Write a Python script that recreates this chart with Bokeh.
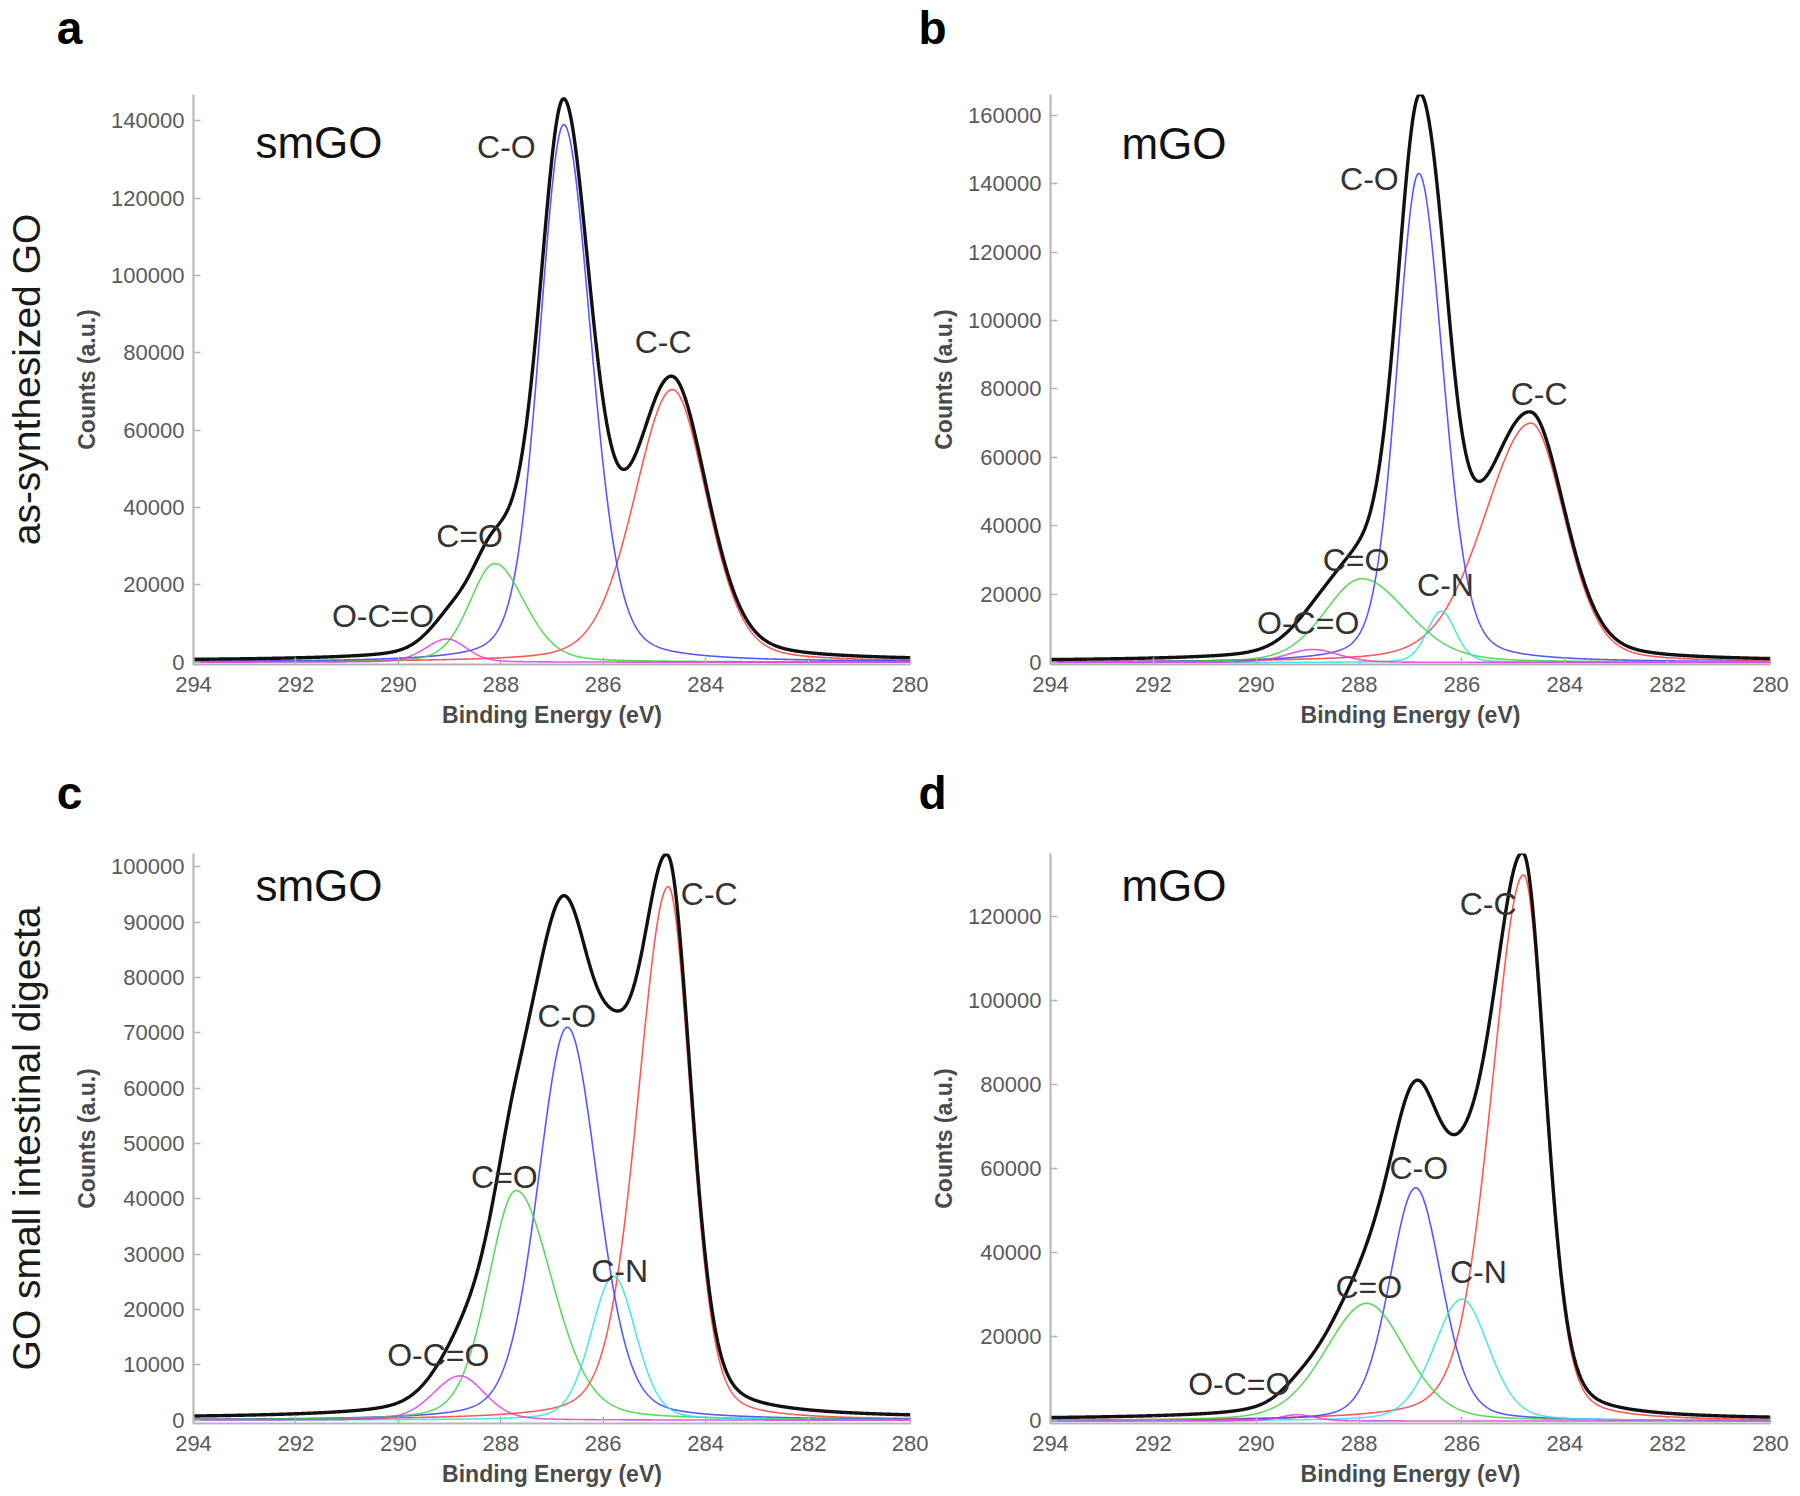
import numpy as np
from bokeh.plotting import figure
from bokeh.models import Range1d, FixedTicker, Label, PrintfTickFormatter, LinearAxis
from bokeh.layouts import column, row
from bokeh.embed import file_html
from bokeh.resources import INLINE

# ---------------- data ----------------
x_ticks = [294, 292, 290, 288, 286, 284, 282, 280]

# fitted C1s components: centre (eV), height (counts), half-widths toward high / low BE (eV)
a_species = ["C-C", "C-O", "C=O", "O-C=O"]
a_center = [284.65, 286.77, 288.12, 289.05]
a_height = [70500, 139000, 25500, 6000]
a_hw_high = [0.88, 0.56, 0.58, 0.50]
a_hw_low = [0.80, 0.63, 0.70, 0.45]
a_background = 300
a_yticks = [0, 20000, 40000, 60000, 80000, 100000, 120000, 140000]

b_species = ["C-C", "C-O", "C=O", "C-N", "O-C=O"]
b_center = [284.66, 286.84, 287.95, 286.40, 288.90]
b_height = [70000, 143000, 24500, 15000, 3800]
b_hw_high = [1.08, 0.50, 0.85, 0.33, 0.60]
b_hw_low = [0.78, 0.56, 1.05, 0.33, 0.60]
b_background = 300
b_yticks = [0, 20000, 40000, 60000, 80000, 100000, 120000, 140000, 160000]

c_species = ["C-C", "C-O", "C=O", "C-N", "O-C=O"]
c_center = [284.73, 286.70, 287.70, 285.80, 288.80]
c_height = [96400, 71000, 41500, 26000, 8000]
c_hw_high = [0.70, 0.68, 0.65, 0.52, 0.62]
c_hw_low = [0.52, 0.70, 0.84, 0.52, 0.58]
c_background = 300
c_yticks = [0, 10000, 20000, 30000, 40000, 50000, 60000, 70000, 80000, 90000, 100000]

d_species = ["C-C", "C-O", "C=O", "C-N", "O-C=O"]
d_center = [284.80, 286.90, 287.85, 286.00, 289.20]
d_height = [130000, 55500, 28000, 29000, 1500]
d_hw_high = [0.74, 0.60, 0.95, 0.65, 0.40]
d_hw_low = [0.50, 0.60, 0.90, 0.62, 0.40]
d_background = 300
d_yticks = [0, 20000, 40000, 60000, 80000, 100000, 120000]

# peak labels (text, x in eV, y in counts)
a_labels = [("C-O", 287.89, 133200), ("C-C", 284.83, 82800), ("C=O", 288.61, 32700), ("O-C=O", 290.30, 12000)]
b_labels = [("C-O", 287.80, 141500), ("C-C", 284.50, 78400), ("C=O", 288.06, 29900), ("C-N", 286.32, 22600), ("O-C=O", 288.99, 11600)]
c_labels = [("C-C", 283.93, 95100), ("C-O", 286.71, 73000), ("C=O", 287.93, 43900), ("C-N", 285.68, 26900), ("O-C=O", 289.22, 11700)]
d_labels = [("C-C", 285.49, 123100), ("C-O", 286.84, 60200), ("C=O", 287.81, 31900), ("C-N", 285.68, 35500), ("O-C=O", 290.33, 8800)]

sample_names = ["smGO", "mGO", "smGO", "mGO"]
panel_letters = ["a", "b", "c", "d"]
row_labels = ["as-synthesized GO", "GO small intestinal digesta"]

# ---------------- styling ----------------
COLORS = {"C-C": "#ff3b3b", "C-O": "#3b3bff", "C=O": "#3fd23f", "C-N": "#35e0e0", "O-C=O": "#e23be2"}
FONT = "Liberation Sans"
ETA = 0.25
energy = np.linspace(280.0, 294.0, 1401)
PAGE_W = 1790
STRIP_H = 64


def component(c, h, whi, wlo):
    w = np.where(energy >= c, whi, wlo)
    u = (energy - c) / w
    return h * ((1 - ETA) * np.exp(-np.log(2) * u * u) + ETA / (1 + u * u))


def make_strip(top, letters_pos):
    # thin axis-less strip that carries the panel letters (pixel coordinates of the strip)
    s = figure(frame_width=PAGE_W, frame_height=STRIP_H, x_range=Range1d(0, PAGE_W),
               y_range=Range1d(top + STRIP_H, top), x_axis_type=None, y_axis_type=None,
               output_backend="svg", toolbar_location=None,
               min_border_left=0, min_border_right=0, min_border_top=0, min_border_bottom=0)
    s.outline_line_color = None
    s.grid.visible = False
    s.background_fill_color = "white"
    s.border_fill_color = "white"
    for letter, lx, ly in letters_pos:
        s.add_layout(Label(x=lx, y=ly, text=letter, text_font=FONT, text_font_size="46px",
                           text_font_style="bold", text_color="#000000",
                           text_align="center", text_baseline="middle"))
    return s


def make_panel(species, center, height, hw_hi, hw_lo, bg, yticks, y_end, labels, name, name_x, name_y,
               frame_w, mb_left, mb_right, mb_top, mb_bottom, row_label=None):
    p = figure(frame_width=frame_w, frame_height=570,
               x_range=Range1d(294, 280), y_range=Range1d(-600, y_end),
               output_backend="svg", toolbar_location=None,
               min_border_left=mb_left, min_border_right=mb_right,
               min_border_top=mb_top, min_border_bottom=mb_bottom)
    p.outline_line_color = None
    p.grid.visible = False
    p.background_fill_color = "white"
    p.border_fill_color = "white"

    total = np.full_like(energy, float(bg))
    for s, c, h, whi, wlo in zip(species, center, height, hw_hi, hw_lo):
        yv = component(c, h, whi, wlo)
        total = total + yv
        p.line(energy, yv, line_color=COLORS[s], line_width=1.6, line_alpha=0.85)
    p.line(energy, total, line_color="#111111", line_width=3.4)

    p.xaxis.ticker = FixedTicker(ticks=x_ticks)
    p.yaxis.ticker = FixedTicker(ticks=yticks)
    p.yaxis.formatter = PrintfTickFormatter(format="%d")
    p.xaxis.axis_label = "Binding Energy (eV)"
    p.yaxis.axis_label = "Counts (a.u.)"
    for ax in (p.xaxis, p.yaxis):
        ax.axis_line_color = "#b4b4b4"
        ax.axis_line_width = 2
        ax.major_tick_line_color = "#b4b4b4"
        ax.major_tick_line_width = 1.5
        ax.major_tick_in = 7
        ax.major_tick_out = 0
        ax.minor_tick_line_color = None
        ax.major_label_text_font = FONT
        ax.major_label_text_font_size = "22px"
        ax.major_label_text_color = "#5a5a5a"
        ax.axis_label_text_font = FONT
        ax.axis_label_text_font_size = "23px"
        ax.axis_label_text_font_style = "bold"
        ax.axis_label_text_color = "#4a4a4a"
    p.xaxis.major_label_standoff = 12
    p.xaxis.axis_label_standoff = 7
    p.yaxis.major_label_standoff = 9
    p.yaxis.axis_label_standoff = 8

    if row_label is not None:
        extra = LinearAxis(axis_label=row_label, ticker=FixedTicker(ticks=[]),
                           axis_line_color=None, major_tick_line_color=None, minor_tick_line_color=None,
                           major_label_standoff=0, major_tick_in=0, major_tick_out=0,
                           axis_label_standoff=24, axis_label_text_font=FONT,
                           axis_label_text_font_size="39px", axis_label_text_font_style="normal",
                           axis_label_text_color="#1a1a1a")
        p.add_layout(extra, "left")

    for t, lx, ly in labels:
        p.add_layout(Label(x=lx, y=ly, text=t, text_align="center", text_baseline="middle",
                           text_font=FONT, text_font_size="32px", text_color="#333333"))
    p.add_layout(Label(x=name_x, y=name_y, text=name, text_font=FONT, text_font_size="44px",
                       text_color="#111111", text_align="left", text_baseline="middle"))
    return p


strip1 = make_strip(0, [(panel_letters[0], 69, 27), (panel_letters[1], 932, 27)])
pa = make_panel(a_species, a_center, a_height, a_hw_high, a_hw_low, a_background, a_yticks, 146800,
                a_labels, sample_names[0], 292.79, 134300,
                717, 193, 18, 30, 95, row_labels[0])
pb = make_panel(b_species, b_center, b_height, b_hw_high, b_hw_low, b_background, b_yticks, 166100,
                b_labels, sample_names[1], 292.62, 151800,
                720, 120, 22, 30, 95)
strip2 = make_strip(759, [(panel_letters[2], 69, 792), (panel_letters[3], 932, 792)])
pc = make_panel(c_species, c_center, c_height, c_hw_high, c_hw_low, c_background, c_yticks, 102400,
                c_labels, sample_names[2], 292.79, 96700,
                717, 193, 18, 30, 65, row_labels[1])
pd = make_panel(d_species, d_center, d_height, d_hw_high, d_hw_low, d_background, d_yticks, 135100,
                d_labels, sample_names[3], 292.62, 127400,
                720, 120, 22, 30, 65)

layout = column(strip1, row(pa, pb), strip2, row(pc, pd))
open("out.html", "w").write(file_html(layout, INLINE))
